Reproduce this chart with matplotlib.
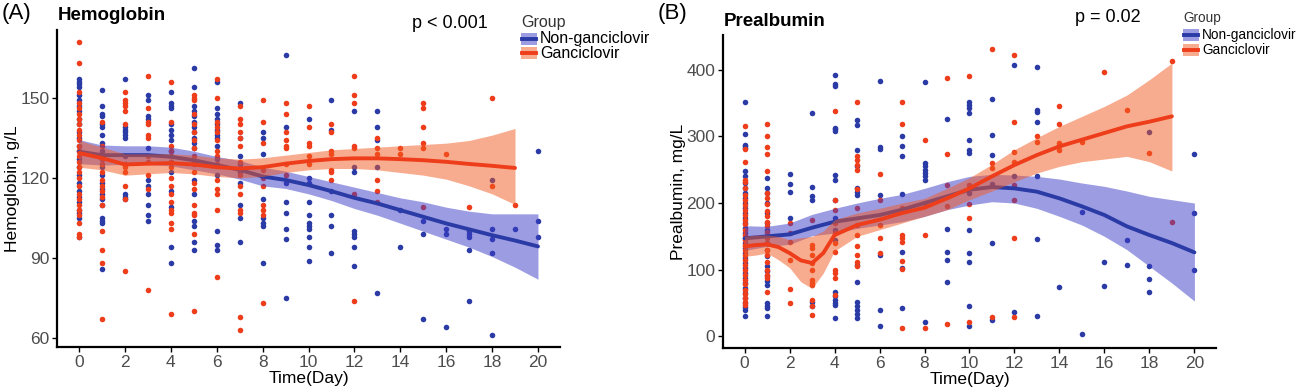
import matplotlib
matplotlib.use("Agg")
import matplotlib.pyplot as plt
from matplotlib.patches import Rectangle
from matplotlib.lines import Line2D

plt.rcParams["font.family"] = ["Liberation Sans", "DejaVu Sans"]

# ---------------- data: Hemoglobin (g/L), one list per day 0..20 ----------------
hb_non = [
    [157, 156, 155, 154, 151, 149, 147, 145, 142, 140, 137, 135, 132, 130, 127, 124, 121, 118, 115, 113, 111, 108, 107, 105, 98],
    [153, 147, 144, 143, 140, 139, 136, 133, 130, 127, 124, 121, 118, 116, 114, 112, 110, 105, 104, 103, 86],
    [157, 139, 138, 137, 136, 135, 128, 114, 113, 112],
    [151, 149, 143, 142, 131, 119, 117, 114, 110, 106, 104],
    [152, 148, 147, 146, 140, 138, 136, 134, 130, 126, 122, 115, 109, 94, 88],
    [161, 154, 147, 145, 143, 141, 139, 137, 135, 133, 131, 126, 119, 114, 104, 102, 96, 93],
    [156, 146, 144, 142, 140, 138, 136, 135, 132, 127, 121, 100, 95, 93],
    [148, 135, 128, 125, 122, 118, 110, 105, 96],
    [137, 135, 129, 112, 105, 103, 102, 88],
    [166, 139, 118, 111, 107, 101, 97, 75],
    [142, 120, 118, 111, 106, 103, 102, 101, 98, 94, 89],
    [149, 138, 115, 106, 102, 92],
    [145, 124, 122, 100, 99, 98, 94, 87],
    [145, 139, 134, 124, 77],
    [108, 94],
    [104, 99, 67],
    [101, 99, 64],
    [100, 99, 98, 93, 74],
    [119, 101, 97, 92, 61],
    [101],
    [130, 104, 98],
]
hb_gan = [
    [171, 163, 152, 148, 146, 144, 142, 140, 138, 136, 134, 132, 130, 128, 126, 124, 122, 120, 117, 114, 112, 110, 108, 106, 103, 99, 98],
    [141, 132, 127, 125, 122, 119, 117, 115, 113, 110, 100, 93, 88, 67],
    [152, 149, 148, 147, 145, 140, 125, 124, 122, 117, 112, 85],
    [158, 146, 141, 140, 136, 135, 128, 126, 121, 116, 78],
    [156, 141, 132, 130, 128, 126, 124, 120, 117, 114, 111, 108, 107, 103, 101, 69],
    [151, 150, 149, 144, 140, 137, 134, 131, 128, 125, 122, 118, 116, 110, 107, 106, 99, 70],
    [157, 150, 141, 139, 137, 134, 130, 128, 125, 119, 116, 114, 108, 83],
    [147, 142, 140, 137, 135, 132, 126, 121, 117, 114, 108, 107, 68, 63],
    [149, 141, 133, 123, 120, 117, 110, 108, 106, 73],
    [148, 144, 137, 134, 132, 131, 125, 121],
    [147, 139, 133, 132, 128, 125],
    [140, 137, 130, 129, 123, 122, 119],
    [158, 151, 148, 132, 131, 114, 74],
    [135, 131, 129, 119, 115, 111],
    [131, 129],
    [148, 146, 139, 133, 131, 109],
    [129],
    [109],
    [150, 117],
    [110],
    [],
]

# smooth fits
hb_fit_days_non = list(range(21))
hb_fit_non = [129.8, 128.5, 128.5, 128.5, 127.9, 126.6, 124.8, 123, 120.5, 119.2, 117.3,
              115, 112.5, 110.4, 107.9, 105.4, 102.9, 100.7, 98.5, 96.5, 94.3]
hb_lo_non = [125.3, 124.8, 125, 125, 124.5, 123, 121.5, 119.5, 117, 116, 114,
             111.5, 108.5, 106, 103, 100, 97, 94, 90.5, 86.5, 82]
hb_hi_non = [134.3, 132.3, 132, 132, 131.5, 130, 128, 126.5, 124, 122.5, 120.5,
             118.5, 116.5, 114.5, 112.5, 111, 109, 107.5, 106.5, 106.5, 106.5]
hb_fit_days_gan = list(range(20))
hb_fit_gan = [129.3, 127.4, 125, 125.3, 125.5, 125, 124, 123.5, 124, 125.3, 126.3,
              127, 127.3, 127.3, 127, 126.6, 126, 125.2, 124.5, 123.7]
hb_lo_gan = [124, 123, 121, 121.5, 122, 121.5, 120.5, 120, 120.5, 122, 123,
             123.5, 123.5, 123, 122, 121, 119.5, 117, 114, 110]
hb_hi_gan = [134, 131.5, 129, 129, 129, 128.5, 127.5, 127, 127.5, 128.5, 129.5,
             130.5, 131, 131.5, 132, 132.5, 133, 134, 136, 138.5]

# ---------------- data: Prealbumin (mg/L) ----------------
pa_non = [
    [352, 304, 287, 285, 282, 248, 240, 230, 222, 215, 208, 200, 193, 185, 178, 170, 163, 155, 148, 140, 132, 125, 117, 110, 102, 95, 88, 80, 72, 65, 58, 50, 44, 40, 31],
    [237, 222, 215, 200, 185, 170, 160, 150, 140, 130, 120, 105, 98, 90, 83, 77, 50, 45, 42, 30],
    [243, 229, 216, 177],
    [335, 224, 210, 205, 52, 45],
    [392, 378, 376, 313, 311, 308, 242, 235, 205, 177, 160, 145, 67, 60, 55, 50, 47, 27],
    [325, 317, 279, 255, 222, 217, 212, 107, 82, 52, 45, 40, 33, 27],
    [383, 284, 281, 212, 122, 40, 15],
    [300, 286, 270, 213, 127, 102, 43],
    [382, 260, 255, 250, 245, 240, 235, 22],
    [326, 161, 127, 115, 81],
    [352, 347, 342, 335, 295, 279, 275, 215, 160, 125, 111, 45, 15],
    [356, 302, 272, 228, 140, 25],
    [407, 241, 36],
    [404, 340, 336, 322, 241, 146, 31],
    [74],
    [186, 3],
    [112, 76],
    [145, 107],
    [307, 106, 86, 67],
    [],
    [273, 185, 100],
]
pa_gan = [
    [316, 281, 262, 235, 231, 223, 212, 205, 197, 190, 182, 175, 168, 160, 152, 145, 137, 130, 122, 115, 107, 100, 92, 85, 78, 70, 63, 57, 52, 47],
    [318, 301, 284, 274, 248, 215, 207, 198, 188, 180, 172, 165, 157, 148, 140, 130, 122, 112, 100, 92, 88, 67],
    [170, 155, 142, 115, 71, 50],
    [175, 137, 132, 122, 110, 100, 85, 80, 77, 55, 45, 32],
    [338, 205, 190, 170, 155, 140, 127, 100, 95, 87, 62],
    [351, 271, 264, 257, 249, 221, 192, 167, 152, 135, 122, 112, 105],
    [244, 205, 167, 147, 125],
    [351, 319, 192, 152, 147, 142, 113, 101, 12],
    [295, 200, 152, 12],
    [387, 273, 227, 195, 18],
    [391, 227, 198, 177, 22],
    [431, 260, 253, 29],
    [422, 321, 277, 262, 227, 205, 147, 29],
    [301, 291],
    [346, 318, 290, 285, 280],
    [291],
    [397],
    [339],
    [275],
    [413, 171],
    [],
]

pa_fit_days_non = list(range(21))
pa_fit_non = [147, 150, 153, 163, 172, 177, 182, 190, 200, 210, 220,
              224, 222, 217, 207, 195, 182, 165, 152, 140, 126]
pa_lo_non = [129, 135, 138, 151, 155, 162, 167, 172, 180, 190, 197,
             202, 200, 192, 180, 167, 150, 130, 105, 80, 53]
pa_hi_non = [166, 165, 170, 183, 192, 200, 207, 213, 222, 232, 240,
             243, 242, 240, 236, 230, 225, 218, 210, 205, 200]
pa_fit_days_gan = [0, 0.5, 1, 1.5, 2, 2.5, 3, 3.5, 4, 5, 6, 7, 8, 9, 10,
                   11, 12, 13, 14, 15, 16, 17, 18, 19]
pa_fit_gan = [135, 137, 138, 134, 125, 114, 110, 125, 152, 167, 175, 185, 193, 207, 222,
              240, 257, 272, 285, 295, 305, 315, 322, 330]
pa_lo_gan = [120, 122, 125, 115, 103, 82, 72, 95, 128, 150, 160, 170, 180, 190, 205,
             218, 232, 245, 255, 262, 266, 270, 262, 248]
pa_hi_gan = [150, 152, 152, 150, 145, 148, 150, 158, 175, 185, 192, 200, 207, 222, 238,
             258, 280, 298, 315, 330, 345, 362, 385, 410]

group_labels = ["Non-ganciclovir", "Ganciclovir"]

BLUE = "#2B3BA6"
RED = "#EE3D1B"
BLUE_FILL = "#3B3BC8"
RED_FILL = "#F25A20"
TICK_GRAY = "#4D4D4D"

W, H = 1300.0, 391.0


def flatten(per_day):
    xs, ys = [], []
    for day, vals in enumerate(per_day):
        xs += [day] * len(vals)
        ys += vals
    return xs, ys


def draw_panel(ax, non, gan, fit_non, fit_gan, ylim, yticks, ylabel):
    x, y = flatten(non)
    ax.scatter(x, y, s=16, color=BLUE, linewidths=0, zorder=2)
    x, y = flatten(gan)
    ax.scatter(x, y, s=16, color=RED, linewidths=0, zorder=2)

    # ribbon + line per group, as ggplot draws them
    for (days, fit, lo, hi), line_c, fill_c, z in [
        (fit_non, BLUE, BLUE_FILL, 3),
        (fit_gan, RED, RED_FILL, 5),
    ]:
        ax.fill_between(days, lo, hi, color=fill_c, alpha=0.5, linewidth=0, zorder=z)
        ax.plot(days, fit, color=line_c, lw=2.8, solid_capstyle="round", zorder=z + 1)

    ax.set_xlim(-0.96, 20.96)
    ax.set_ylim(*ylim)
    ax.set_xticks(range(0, 21, 2))
    ax.set_yticks(yticks)
    for side in ["top", "right"]:
        ax.spines[side].set_visible(False)
    for side in ["left", "bottom"]:
        ax.spines[side].set_linewidth(1.6)
    ax.tick_params(length=3.5, width=1, labelsize=12.5, labelcolor=TICK_GRAY, pad=2)
    ax.set_xlabel("Time(Day)", fontsize=12.5, labelpad=1)
    ax.set_ylabel(ylabel, fontsize=12.5, labelpad=0)


def add_legend(fig, x, y_title, y_rows, key_w, fontsize):
    # manual legend in pixel positions (top-left origin)
    fig.text(x / W, 1 - y_title / H, "Group", fontsize=fontsize, color="#333333",
             va="center", ha="left")
    for yc, lab, fc, lc in zip(y_rows, group_labels, [BLUE_FILL, RED_FILL], [BLUE, RED]):
        fig.patches.append(Rectangle((x / W, 1 - (yc + 5.5) / H), key_w / W, 11 / H,
                                     transform=fig.transFigure, facecolor=fc,
                                     alpha=0.5, linewidth=0))
        fig.lines.append(Line2D([(x + 1) / W, (x + key_w - 1) / W], [1 - yc / H] * 2,
                                transform=fig.transFigure, color=lc, lw=2.8))
        fig.text((x + key_w + 3) / W, 1 - yc / H, lab, fontsize=fontsize,
                 va="center", ha="left")


fig = plt.figure(figsize=(13, 3.91), dpi=100)

ax1 = fig.add_axes([57 / W, (H - 347) / H, (560 - 57) / W, (347 - 30) / H])
draw_panel(ax1, hb_non, hb_gan,
           (hb_fit_days_non, hb_fit_non, hb_lo_non, hb_hi_non),
           (hb_fit_days_gan, hb_fit_gan, hb_lo_gan, hb_hi_gan),
           (56.6, 175.4), [60, 90, 120, 150], "Hemoglobin, g/L")

ax2 = fig.add_axes([723 / W, (H - 348) / H, (1216 - 723) / W, (348 - 35) / H])
draw_panel(ax2, pa_non, pa_gan,
           (pa_fit_days_non, pa_fit_non, pa_lo_non, pa_hi_non),
           (pa_fit_days_gan, pa_fit_gan, pa_lo_gan, pa_hi_gan),
           (-17.4, 452), [0, 100, 200, 300, 400], "Prealbumin, mg/L")

fig.text(2 / W, 1 - 14 / H, "(A)", fontsize=16, va="center", ha="left")
fig.text(58 / W, 1 - 15 / H, "Hemoglobin", fontsize=13.5, fontweight="bold", va="center", ha="left")
fig.text(412 / W, 1 - 23 / H, "p < 0.001", fontsize=13, va="center", ha="left")
add_legend(fig, 521, 22, [39, 53], 16, 11.5)

fig.text(658 / W, 1 - 14 / H, "(B)", fontsize=16, va="center", ha="left")
fig.text(724 / W, 1 - 22 / H, "Prealbumin", fontsize=13.5, fontweight="bold", va="center", ha="left")
fig.text(1075 / W, 1 - 18 / H, "p = 0.02", fontsize=13, va="center", ha="left")
add_legend(fig, 1183, 18, [35, 50], 16, 9.8)

fig.savefig("out.png", dpi=100)
